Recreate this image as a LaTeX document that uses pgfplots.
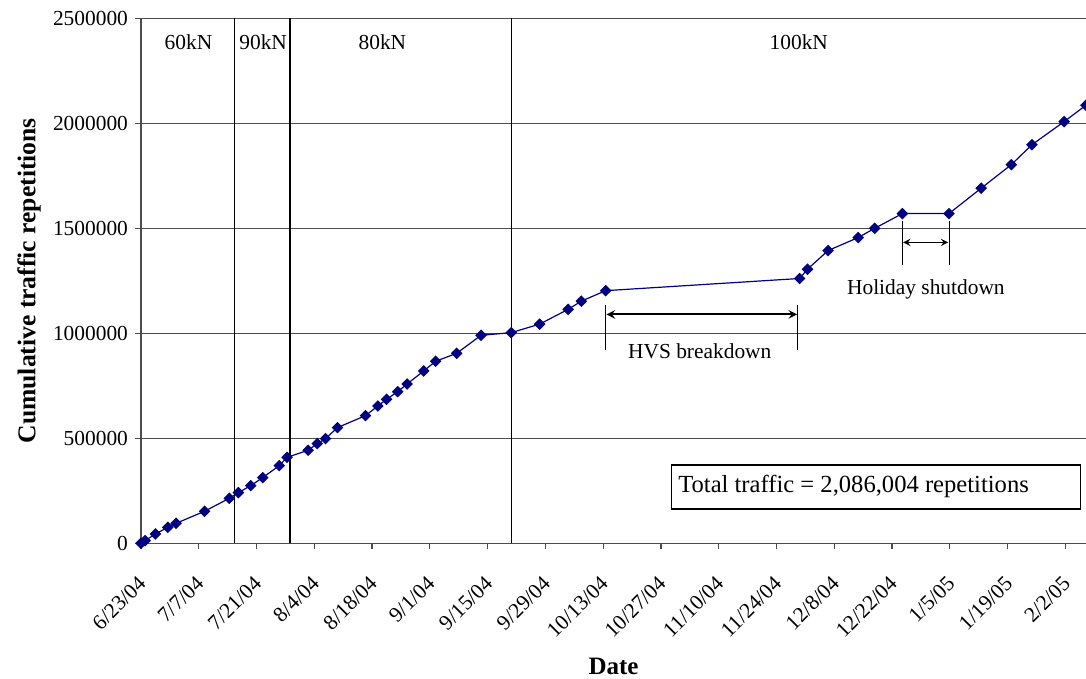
\documentclass[border=0pt]{standalone}
\usepackage{fontspec}
\setmainfont{Liberation Serif}
\usepackage{pgfplots}
\pgfplotsset{compat=1.18}
\definecolor{navy}{rgb}{0,0,0.5}
\pgfplotstableread{
day value
0 0
1 12700
3.5 44400
6.5 76200
8.5 95200
15.4 152400
21.4 214300
23.6 241300
26.6 274600
29.5 312700
33.5 369800
35.4 409500
40.5 442900
42.7 474600
44.7 498400
47.6 550800
54.4 607900
57.4 654000
59.5 685700
62.2 722200
64.5 758700
68.5 820600
71.4 866700
76.5 904800
82.4 990500
89.7 1003000
96.6 1043750
103.5 1114000
106.7 1153000
112.6 1203000
159.6 1261000
161.5 1305000
166.5 1394000
173.8 1456000
177.8 1500000
184.5 1570000
195.8 1570000
203.6 1691000
210.9 1803000
215.9 1898000
223.7 2008000
229 2086004
}\traffic
\begin{document}
\begin{tikzpicture}
\begin{axis}[
  scale only axis,
  width=472.5pt, height=262.5pt,
  xmin=0, xmax=229, ymin=0, ymax=2500000,
  axis lines=left,
  axis line style={-, black!70, line width=0.6pt},
  xtick={0,14,...,224},
  xticklabels={6/23/04,7/7/04,7/21/04,8/4/04,8/18/04,9/1/04,9/15/04,9/29/04,10/13/04,10/27/04,11/10/04,11/24/04,12/8/04,12/22/04,1/5/05,1/19/05,2/2/05},
  ytick={0,500000,...,2500000},
  scaled y ticks=false,
  yticklabel style={/pgf/number format/fixed, /pgf/number format/1000 sep={}, /pgf/number format/assume math mode=true},
  tick label style={font=\fontsize{10.7}{12}\selectfont},
  xticklabel style={shift={(-2pt,-12.5pt)}, rotate=45, anchor=north east, inner sep=0pt},
  tick align=outside,
  major tick length=3pt,
  tick style={black!70, line width=0.6pt},
  ymajorgrids,
  major grid style={black!70, line width=0.6pt},
  clip=false,
]
\addplot[navy, line width=0.6pt, mark=square*, mark size=1.75pt, mark options={fill=navy, rotate=45}] table[x=day, y=value] {\traffic};
% load change lines
\draw[black, line width=0.55pt] (axis cs:22.6,0) -- (axis cs:22.6,2500000);
\draw[black, line width=0.55pt] (axis cs:36.1,0) -- (axis cs:36.1,2500000);
\draw[black, line width=0.55pt] (axis cs:89.7,0) -- (axis cs:89.7,2500000);
\node[font=\fontsize{10.7}{12}\selectfont] at (axis cs:11.5,2385000) {60kN};
\node[font=\fontsize{10.7}{12}\selectfont] at (axis cs:29.6,2385000) {90kN};
\node[font=\fontsize{10.7}{12}\selectfont] at (axis cs:58.5,2385000) {80kN};
\node[font=\fontsize{10.7}{12}\selectfont] at (axis cs:159.4,2385000) {100kN};
% HVS breakdown
\draw[black, line width=0.5pt] (axis cs:112.6,922000) -- (axis cs:112.6,1133000);
\draw[black, line width=0.5pt] (axis cs:159.2,922000) -- (axis cs:159.2,1133000);
\draw[<->, >=stealth, black, line width=0.9pt] (axis cs:112.8,1090000) -- (axis cs:159.0,1090000);
\node[font=\fontsize{10.7}{12}\selectfont] at (axis cs:135.4,915000) {HVS breakdown};
% Holiday shutdown
\draw[black, line width=0.5pt] (axis cs:184.5,1327000) -- (axis cs:184.5,1535000);
\draw[black, line width=0.5pt] (axis cs:195.8,1327000) -- (axis cs:195.8,1535000);
\draw[<->, >=stealth, black, line width=0.6pt] (axis cs:184.7,1433000) -- (axis cs:195.6,1433000);
\node[font=\fontsize{10.7}{12}\selectfont] at (axis cs:190.2,1207000) {Holiday shutdown};
% total box
\draw[black, line width=0.6pt] (axis cs:128.6,163500) rectangle (axis cs:227.7,372900);
\node[anchor=west, inner sep=0pt, font=\fontsize{12.3}{14}\selectfont] at (axis cs:130.1,272000) {Total traffic = 2,086,004 repetitions};
\end{axis}
\node[font=\bfseries\fontsize{12.5}{15}\selectfont] at ([yshift=-61.4pt]current axis.south) {Date};
\node[rotate=90, font=\bfseries\fontsize{12.8}{15}\selectfont] at ([xshift=-56pt]current axis.west) {Cumulative traffic repetitions};
\pgfresetboundingbox
\path ([shift={(-70.5pt,-67.85pt)}]current axis.south west) rectangle ([shift={(0pt,9.15pt)}]current axis.north east);
\end{tikzpicture}
\end{document}
